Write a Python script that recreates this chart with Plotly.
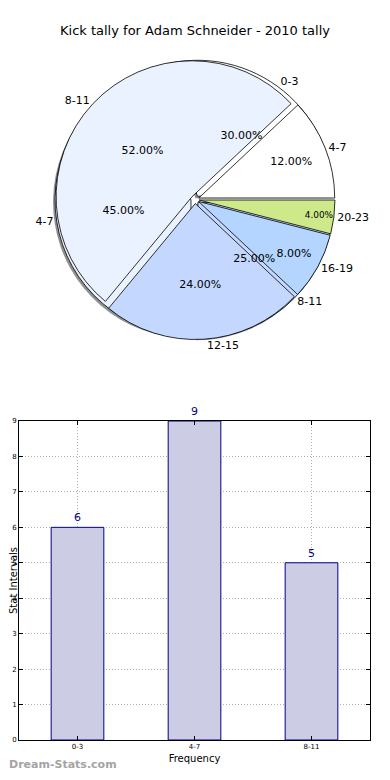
import plotly.graph_objects as go

# ---- data ----
title_text = "Kick tally for Adam Schneider - 2010 tally"
pie1_labels = ["0-3", "4-7", "8-11"]
pie1_values = [6, 9, 5]
pie2_labels = ["4-7", "8-11", "12-15", "16-19", "20-23"]
pie2_values = [12, 52, 24, 8, 4]
bar_categories = ["0-3", "4-7", "8-11"]
bar_values = [6, 9, 5]
y_ticks = [0, 1, 2, 3, 4, 5, 6, 7, 8, 9]

# ---- styles ----
PAGE_OFF = 8            # default body margin of the html page
W, H = 390 - 2 * PAGE_OFF, 780 - 2 * PAGE_OFF
FONT = "DejaVu Sans"
pie1_colors = ["#ffffff", "#eaf1ff", "#c4d8ff"]
pie2_colors = ["#ffffff", "#eaf1ff", "#c4d8ff", "#b3d5ff", "#cde98a"]
PULL = 0.03


def px(x):
    return (x - PAGE_OFF) / W


def py(y):
    return 1 - (y - PAGE_OFF) / H


def dom(x0, x1, y0, y1):
    return dict(x=[px(x0), px(x1)], y=[py(y1), py(y0)])


cx, cy, half = 195, 199.5, 140
pie_dom = dom(cx - half, cx + half, cy - half, cy + half)
shadow_dom = dom(cx - half - 2, cx + half - 2, cy - half + 2, cy + half + 2)
clear = "rgba(0,0,0,0)"
# matplotlib style: first wedge starts at 3 o'clock and goes counterclockwise;
# in plotly that equals reversed order drawn clockwise from 3 o'clock
common = dict(sort=False, direction="clockwise", rotation=90,
              hoverinfo="skip", showlegend=False)


def rev(a):
    return list(a)[::-1]


fig = go.Figure()
# shadow
fig.add_trace(go.Pie(labels=rev(pie1_labels), values=rev(pie1_values), domain=shadow_dom,
                     pull=[PULL] * len(pie1_values), textinfo="none",
                     marker=dict(colors=["rgba(70,70,70,0.6)"] * 3, line=dict(width=0)),
                     **common))
# pie 1 fills + outside labels
fig.add_trace(go.Pie(labels=rev(pie1_labels), values=rev(pie1_values), domain=pie_dom,
                     pull=[PULL] * len(pie1_values), textinfo="label",
                     textposition="outside",
                     outsidetextfont=dict(family=FONT, size=11, color="black"),
                     marker=dict(colors=rev(pie1_colors), line=dict(color="black", width=0.8)),
                     **common))
# pie 2 fills + outside labels
fig.add_trace(go.Pie(labels=rev(pie2_labels), values=rev(pie2_values), domain=pie_dom,
                     pull=[PULL] * len(pie2_values), textinfo="label",
                     textposition="outside",
                     outsidetextfont=dict(family=FONT, size=11, color="black"),
                     marker=dict(colors=rev(pie2_colors), line=dict(color="black", width=0.8)),
                     **common))
# pie 2 percentages
fig.add_trace(go.Pie(labels=rev(pie2_labels), values=rev(pie2_values), domain=pie_dom,
                     pull=[PULL] * len(pie2_values), texttemplate="%{percent:.2%}",
                     textposition="inside", insidetextorientation="horizontal",
                     insidetextfont=dict(family=FONT, size=11, color="black"),
                     marker=dict(colors=[clear] * 5, line=dict(width=0)),
                     **common))
# pie 1 percentages
fig.add_trace(go.Pie(labels=rev(pie1_labels), values=rev(pie1_values), domain=pie_dom,
                     pull=[PULL] * len(pie1_values), texttemplate="%{percent:.2%}",
                     textposition="inside", insidetextorientation="horizontal",
                     insidetextfont=dict(family=FONT, size=11, color="black"),
                     marker=dict(colors=[clear] * 3, line=dict(width=0)),
                     **common))

# bar chart
fig.add_trace(go.Bar(x=bar_categories, y=bar_values, width=0.45,
                     marker=dict(color="#cccce4", line=dict(color="#000080", width=1)),
                     texttemplate="%{y}", textposition="outside",
                     textfont=dict(family=FONT, size=11, color="#00008b"),
                     cliponaxis=False, hoverinfo="skip", showlegend=False))

bx0, bx1, by0, by1 = 19, 370, 421, 740
axis_common = dict(showline=True, linecolor="black", linewidth=1, mirror="ticks",
                   ticks="inside", ticklen=4, tickcolor="black",
                   showgrid=True, gridcolor="#b0b0b0", griddash="1px,2px", gridwidth=1,
                   zeroline=False, automargin=False,
                   tickfont=dict(family=FONT, size=7, color="black"))
fig.update_layout(
    width=W, height=H, margin=dict(l=0, r=0, t=0, b=0),
    paper_bgcolor="white", plot_bgcolor="white",
    font=dict(family=FONT, color="black"),
    title=dict(text=title_text, x=px(195), xanchor="center", y=py(30), yanchor="middle",
               font=dict(family=FONT, size=13, color="black")),
    xaxis=dict(domain=[px(bx0), px(bx1)], range=[-0.5, 2.5], type="category",
               title=dict(text="Frequency", font=dict(family=FONT, size=10), standoff=4),
               **axis_common),
    yaxis=dict(domain=[py(by1), py(by0)], range=[0, 9], tickvals=y_ticks,
               title=dict(text="Stat Intervals", font=dict(family=FONT, size=10), standoff=2),
               **axis_common),
    annotations=[dict(text="<b>Dream-Stats.com</b>", xref="paper", yref="paper",
                      x=px(8), y=0, xanchor="left", yanchor="bottom", showarrow=False,
                      borderpad=0,
                      font=dict(family=FONT, size=11, color="#a4a4a4"))],
)

fig.write_html("out.html")
